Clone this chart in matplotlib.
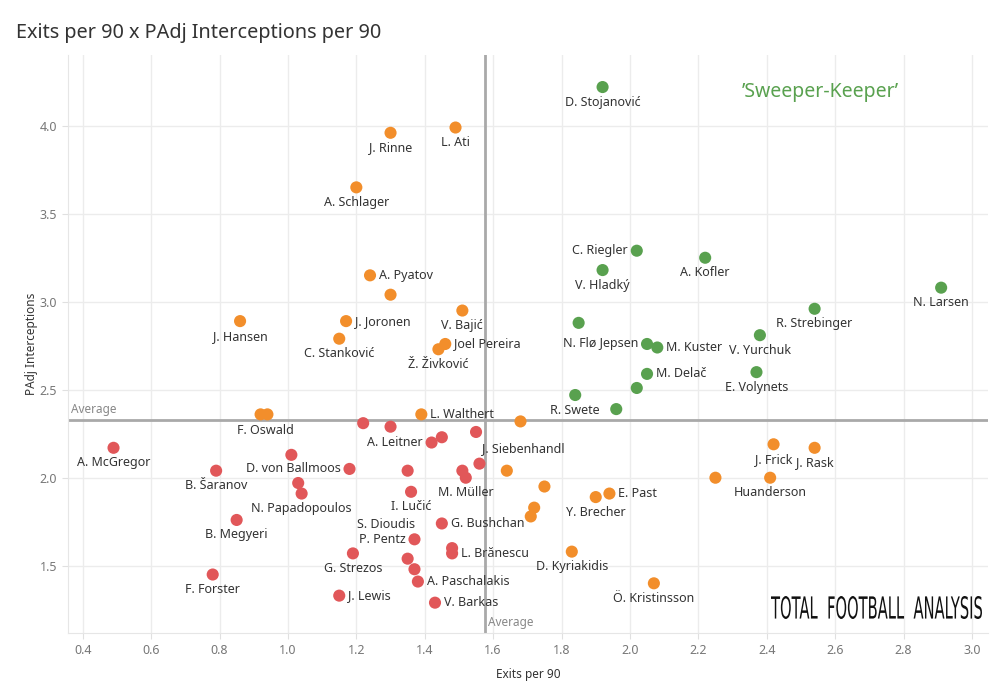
import matplotlib.pyplot as plt
from matplotlib.textpath import TextPath
from matplotlib.patches import PathPatch
from matplotlib.font_manager import FontProperties
from matplotlib.transforms import Affine2D, IdentityTransform

plt.rcParams['font.family'] = ['Noto Sans', 'DejaVu Sans']

# sweeper-keepers (green)
green_names = ['D. Stojanović', 'C. Riegler', 'V. Hladký', 'A. Kofler', 'N. Larsen',
               'R. Strebinger', 'V. Yurchuk', 'E. Volynets', '', 'N. Flø Jepsen',
               'M. Kuster', 'M. Delač', '', 'R. Swete', '']
green_exits = [1.92, 2.02, 1.92, 2.22, 2.91, 2.54, 2.38, 2.37, 1.85, 2.05,
               2.08, 2.05, 2.02, 1.84, 1.96]
green_int = [4.22, 3.29, 3.18, 3.25, 3.08, 2.96, 2.81, 2.60, 2.88, 2.76,
             2.74, 2.59, 2.51, 2.47, 2.39]

# orange group
orange_names = ['L. Ati', 'J. Rinne', 'A. Schlager', 'A. Pyatov', '', 'V. Bajić',
                'J. Hansen', 'J. Joronen', 'C. Stanković', 'Joel Pereira', 'Ž. Živković',
                '', 'F. Oswald', 'L. Walthert', '', 'J. Frick', 'J. Rask', '',
                '', 'Huanderson', '', 'E. Past', 'Y. Brecher', '', '',
                'D. Kyriakidis', 'Ö. Kristinsson']
orange_exits = [1.49, 1.30, 1.20, 1.24, 1.30, 1.51, 0.86, 1.17, 1.15, 1.46, 1.44,
                0.92, 0.94, 1.39, 1.68, 2.42, 2.54, 1.64, 2.25, 2.41, 1.75, 1.94,
                1.90, 1.72, 1.71, 1.83, 2.07]
orange_int = [3.99, 3.96, 3.65, 3.15, 3.04, 2.95, 2.89, 2.89, 2.79, 2.76, 2.73,
              2.36, 2.36, 2.36, 2.32, 2.19, 2.17, 2.04, 2.00, 2.00, 1.95, 1.91,
              1.89, 1.83, 1.78, 1.58, 1.40]

# red group
red_names = ['A. McGregor', '', '', 'A. Leitner', '', '', 'J. Siebenhandl', '',
             'B. Šaranov', 'D. von Ballmoos', '', '', 'M. Müller', '', 'N. Papadopoulos',
             'I. Lučić', 'B. Megyeri', 'G. Bushchan', 'P. Pentz', '', 'L. Brănescu',
             'G. Strezos', 'S. Dioudis', '', 'A. Paschalakis', 'F. Forster',
             'J. Lewis', 'V. Barkas']
red_exits = [0.49, 1.22, 1.30, 1.42, 1.45, 1.55, 1.56, 1.01, 0.79, 1.18, 1.35,
             1.51, 1.52, 1.03, 1.04, 1.36, 0.85, 1.45, 1.37, 1.48, 1.48, 1.19,
             1.35, 1.37, 1.38, 0.78, 1.15, 1.43]
red_int = [2.17, 2.31, 2.29, 2.20, 2.23, 2.26, 2.08, 2.13, 2.04, 2.05, 2.04,
           2.04, 2.00, 1.97, 1.91, 1.92, 1.76, 1.74, 1.65, 1.60, 1.57, 1.57,
           1.54, 1.48, 1.41, 1.45, 1.33, 1.29]

avg_exits = 1.575
avg_int = 2.328

xticks = [0.4, 0.6, 0.8, 1.0, 1.2, 1.4, 1.6, 1.8, 2.0, 2.2, 2.4, 2.6, 2.8, 3.0]
yticks = [1.5, 2.0, 2.5, 3.0, 3.5, 4.0]

# label placement: b = below, r = right, l = left, or custom pixel offset
place = {
    'C. Riegler': 'l', 'N. Flø Jepsen': 'l', 'M. Kuster': 'r', 'M. Delač': 'r',
    'A. Pyatov': 'r', 'J. Joronen': 'r', 'Joel Pereira': 'r', 'L. Walthert': 'r',
    'E. Past': 'r', 'A. Leitner': 'l', 'D. von Ballmoos': 'l', 'G. Bushchan': 'r',
    'P. Pentz': 'l', 'L. Brănescu': 'r', 'A. Paschalakis': 'r', 'J. Lewis': 'r',
    'V. Barkas': 'r', 'F. Oswald': (-2, -16, 'center'),
    'J. Siebenhandl': (3, 15, 'left'), 'S. Dioudis': (-22, 34, 'center'),
}

fig = plt.figure(figsize=(10, 7), dpi=100)
ax = fig.add_axes([0.0677, 0.0953, 0.9203, 0.8261])

cols = {'green': '#59a14f', 'orange': '#f28e2b', 'red': '#e15759'}
groups = [(orange_names, orange_exits, orange_int, cols['orange']),
          (red_names, red_exits, red_int, cols['red']),
          (green_names, green_exits, green_int, cols['green'])]

ax.axhline(avg_int, color='#a9a9a9', lw=2, zorder=2)
ax.axvline(avg_exits, color='#a9a9a9', lw=2, zorder=2)

for names, xs, ys, c in groups:
    ax.scatter(xs, ys, s=76, color=c, edgecolors='none', zorder=3)
    for n, x, y in zip(names, xs, ys):
        if not n:
            continue
        p = place.get(n, 'b')
        if p == 'b':
            off, ha = (0, -15), 'center'
        elif p == 'r':
            off, ha = (9, 0), 'left'
        elif p == 'l':
            off, ha = (-9, 0), 'right'
        else:
            off, ha = (p[0], p[1]), p[2]
        ax.annotate(n, (x, y), xytext=off, textcoords='offset pixels',
                    ha=ha, va='center', fontsize=9, color='#333333', zorder=4)

ax.text(0.365, avg_int + 0.02, 'Average', fontsize=8.5, color='#888888',
        ha='left', va='bottom')
ax.text(avg_exits + 0.01, 1.14, 'Average', fontsize=8.5, color='#888888',
        ha='left', va='bottom')

ax.text(2.556, 4.19, '\u2019Sweeper-Keeper\u2019', fontsize=14, color='#59a14f',
        ha='center', va='center')

ax.set_xlim(0.356, 3.047)
ax.set_ylim(1.116, 4.402)
ax.set_xticks(xticks)
ax.set_yticks(yticks)
ax.set_xticklabels([f'{v:.1f}' for v in xticks])
ax.set_yticklabels([f'{v:.1f}' for v in yticks])
ax.grid(True, color='#ececec', lw=1)
ax.set_axisbelow(True)
for s in ['top', 'right']:
    ax.spines[s].set_visible(False)
for s in ['left', 'bottom']:
    ax.spines[s].set_color('#e6e6e6')
ax.tick_params(axis='both', colors='#e0e0e0', labelcolor='#777777',
               labelsize=9, length=4)

ax.set_xlabel('Exits per 90', fontsize=8.5, color='#333333', fontweight='semibold',
              labelpad=8)
ax.set_ylabel('PAdj Interceptions', fontsize=8.5, color='#333333', labelpad=1)

fig.text(0.016, 0.953, 'Exits per 90 x PAdj Interceptions per 90', fontsize=14.3,
         color='#333333', ha='left', va='center')

# logo text, squeezed into a tall narrow box (pixels)
logo = TextPath((0, 0), 'TOTAL  FOOTBALL  ANALYSIS', size=20,
                prop=FontProperties(family='DejaVu Sans'))
ext = logo.get_extents()
box_l, box_r, box_b, box_t = 771, 982, 700 - 619, 700 - 596
tr = (Affine2D().translate(-ext.x0, -ext.y0)
      .scale((box_r - box_l) / ext.width, (box_t - box_b) / ext.height)
      .translate(box_l, box_b))
fig.patches.append(PathPatch(tr.transform_path(logo), facecolor='#111111',
                             lw=0, transform=IdentityTransform(), figure=fig))

fig.savefig('out.png', dpi=100)
